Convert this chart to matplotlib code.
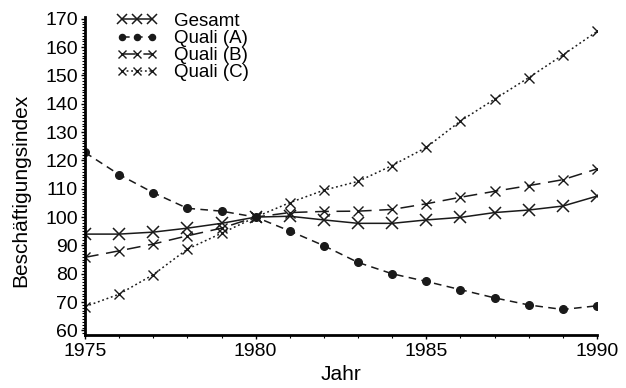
import matplotlib
matplotlib.use("Agg")
import matplotlib.pyplot as plt
from matplotlib.ticker import MultipleLocator

plt.rcParams['font.family'] = ['Liberation Sans', 'DejaVu Sans']

years = list(range(1975, 1991))
gesamt = [94.0, 94.0, 94.7, 96.1, 97.8, 100.0, 100.3, 99.0, 97.8, 97.8, 99.0, 99.9, 101.6, 102.5, 103.9, 107.4]
quali_a = [122.8, 115.0, 108.6, 103.1, 102.1, 100.0, 95.1, 89.9, 84.0, 80.0, 77.3, 74.4, 71.5, 69.0, 67.4, 68.7]
quali_b = [85.8, 88.1, 90.5, 93.4, 96.1, 100.0, 101.6, 102.0, 102.1, 102.7, 104.7, 107.0, 109.1, 111.1, 113.2, 117.0]
quali_c = [68.4, 72.8, 79.7, 88.7, 94.3, 100.0, 105.1, 109.5, 112.6, 118.2, 124.6, 133.9, 141.6, 149.2, 157.2, 165.5]
labels = ["Gesamt", "Quali (A)", "Quali (B)", "Quali (C)"]

fig = plt.figure(figsize=(6.26, 3.88), dpi=100)
ax = fig.add_axes([85/626, 1-335/388, (597-85)/626, (335-17)/388])

lw = 1.1
col = '#1a1a1a'
ax.plot(years, gesamt, color=col, lw=lw, ls='-', marker='x', ms=9, mew=1.1, label=labels[0])
ax.plot(years, quali_a, color=col, lw=lw, ls=(0, (5, 3.5)), marker='o', ms=5.5, label=labels[1])
ax.plot(years, quali_b, color=col, lw=lw, ls=(0, (9, 5)), marker='x', ms=7, mew=1.0, label=labels[2])
ax.plot(years, quali_c, color=col, lw=lw, ls=(0, (1.2, 1.8)), marker='x', ms=7, mew=1.0, label=labels[3])

ax.set_xlim(1975, 1990)
ax.set_ylim(58.4, 170.6)
ax.xaxis.set_major_locator(MultipleLocator(5))
ax.xaxis.set_minor_locator(MultipleLocator(1))
ax.yaxis.set_minor_locator(MultipleLocator(1))
ax.set_yticks(range(60, 171, 10))

for s in ['top', 'right']:
    ax.spines[s].set_visible(False)
for s in ['left', 'bottom']:
    ax.spines[s].set_linewidth(2.0)

ax.tick_params(axis='both', which='major', direction='out', length=3, width=1.0, labelsize=14, pad=2)
ax.tick_params(axis='x', which='major', pad=3)
ax.tick_params(axis='both', which='minor', direction='out', length=2, width=0.8)

ax.set_xlabel("Jahr", fontsize=15, labelpad=3)
ax.set_ylabel("Beschäftigungsindex", fontsize=15)
ax.yaxis.set_label_coords(-0.107, 0.455)

leg = ax.legend(loc='upper left', bbox_to_anchor=(0.062, 1.013), frameon=False, numpoints=3,
                handlelength=2.2, handletextpad=0.85, labelspacing=0.0, fontsize=13.5,
                borderaxespad=0, borderpad=0, markerscale=0.8)

fig.savefig("out.png", dpi=100)
